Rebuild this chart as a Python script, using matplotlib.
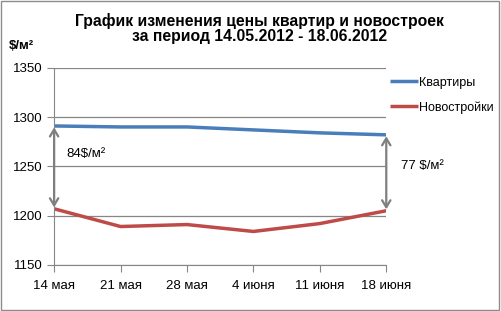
import matplotlib.pyplot as plt
from matplotlib.patches import Rectangle

plt.rcParams['font.family'] = ['Liberation Sans', 'DejaVu Sans']

dates = ['14 мая', '21 мая', '28 мая', '4 июня', '11 июня', '18 июня']
flats = [1291, 1290, 1290, 1287, 1284, 1282]
new_builds = [1207, 1189, 1191, 1184, 1192, 1205]
y_ticks = [1150, 1200, 1250, 1300, 1350]

fig = plt.figure(figsize=(5.01, 3.11), dpi=100)
fig.patches.append(Rectangle((0.002, 0.003), 0.994, 0.993, transform=fig.transFigure,
                             fill=False, edgecolor='#8c8c8c', lw=1))
ax = fig.add_axes([0.108, 0.148, 0.663, 0.634])

x = list(range(len(dates)))
ax.plot(x, flats, color='#4a7ebb', lw=2.5, label='Квартиры', solid_capstyle='butt')
ax.plot(x, new_builds, color='#be4b48', lw=2.5, label='Новостройки', solid_capstyle='butt')

ax.set_xlim(0, len(dates) - 1)
ax.set_ylim(1150, 1350)
ax.set_yticks(y_ticks)
ax.set_xticks(x)
ax.set_xticklabels(dates)
ax.yaxis.grid(True, color='#868686', lw=0.9)
ax.set_axisbelow(True)
for s in ['top', 'right']:
    ax.spines[s].set_visible(False)
for s in ['left', 'bottom']:
    ax.spines[s].set_color('#868686')
ax.tick_params(axis='both', colors='#868686', labelcolor='black', labelsize=9.5,
               length=5, direction='out')
ax.tick_params(axis='x', pad=6)

# difference arrows
arr = dict(arrowstyle='<->,head_length=0.5,head_width=0.3', color='#7f7f7f', lw=1.6,
           shrinkA=1, shrinkB=1)
ax.annotate('', xy=(0, new_builds[0]), xytext=(0, flats[0]), arrowprops=arr, annotation_clip=False)
ax.annotate('', xy=(5, new_builds[-1]), xytext=(5, flats[-1]), arrowprops=arr, annotation_clip=False)
ax.text(0.18, 1263, '84$/м²', fontsize=9.5, va='center')
ax.text(5.22, 1250, '77 $/м²', fontsize=9.5, va='center')

ax.legend(loc='upper left', bbox_to_anchor=(0.985, 1.0), frameon=False, fontsize=9,
          handlelength=2.2, handletextpad=0.1, labelspacing=1.0, borderaxespad=0.3)

fig.text(0.518, 0.907, 'График изменения цены квартир и новостроек\nза период 14.05.2012 - 18.06.2012',
         ha='center', va='center', fontsize=11.3, fontweight='bold', linespacing=1.0)
fig.text(0.017, 0.852, '$/м²', fontsize=9.5, fontweight='bold', va='center')

fig.savefig('out.png', dpi=100)
